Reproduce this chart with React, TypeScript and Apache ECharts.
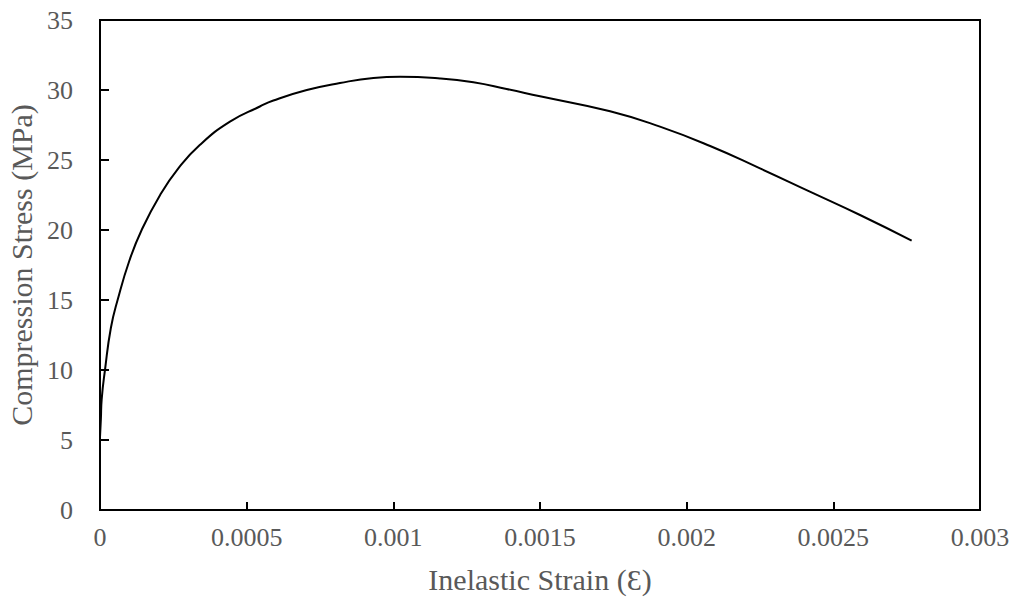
import React, { useEffect, useRef } from "react";
import * as echarts from "echarts";

const strain = [0, 0.000003, 0.0000057, 0.000017, 0.000037, 0.00006, 0.0001, 0.000142, 0.000205, 0.000267, 0.00034, 0.000443, 0.000545, 0.000591, 0.000705, 0.000818, 0.000932, 0.001023, 0.001159, 0.001273, 0.001386, 0.0015, 0.001739, 0.001909, 0.00208, 0.00225, 0.00242, 0.002591, 0.002767];
const stress = [5.2, 6.5, 7.9, 10, 13, 15, 17.8, 20, 22.5, 24.4, 26.07, 27.74, 28.82, 29.25, 30.0, 30.5, 30.86, 30.95, 30.83, 30.55, 30.07, 29.55, 28.48, 27.38, 26.0, 24.4, 22.74, 21.07, 19.24];

const xTitle = "Inelastic Strain (Ɛ)";
const yTitle = "Compression Stress (MPa)";

export default function App() {
  const ref = useRef<HTMLDivElement>(null);
  useEffect(() => {
    if (!ref.current) return;
    const chart = echarts.init(ref.current, null, { renderer: "svg" });
    const font = "'Liberation Serif', 'Times New Roman', serif";
    const textColor = "#595959";
    chart.setOption({
      animation: false,
      backgroundColor: "#ffffff",
      grid: {
        left: 100,
        right: 38,
        top: 20,
        bottom: 92,
        outerBoundsMode: "none",
        containLabel: false,
        show: true,
        borderColor: "#000",
        borderWidth: 2,
        backgroundColor: "transparent",
      },
      xAxis: {
        type: "value",
        min: 0,
        max: 0.003,
        interval: 0.0005,
        name: xTitle,
        nameLocation: "middle",
        nameGap: 54,
        nameTextStyle: { fontFamily: font, fontSize: 30, color: textColor },
        axisLine: { show: true, lineStyle: { color: "#000", width: 2 } },
        axisTick: { show: true, inside: true, length: 8, lineStyle: { color: "#000", width: 2 } },
        axisLabel: {
          fontFamily: font,
          fontSize: 26,
          color: textColor,
          margin: 14,
          formatter: (v: number) => String(+v.toFixed(4)),
        },
        splitLine: { show: false },
      },
      yAxis: {
        type: "value",
        min: 0,
        max: 35,
        interval: 5,
        name: yTitle,
        nameLocation: "middle",
        nameGap: 64,
        nameTextStyle: { fontFamily: font, fontSize: 30, color: textColor },
        axisLine: { show: true, lineStyle: { color: "#000", width: 2 } },
        axisTick: { show: true, inside: true, length: 9, lineStyle: { color: "#000", width: 2 } },
        axisLabel: { fontFamily: font, fontSize: 26, color: textColor, margin: 27 },
        splitLine: { show: false },
      },
      series: [
        {
          type: "line",
          data: strain.map((s, i) => [s, stress[i]]),
          showSymbol: false,
          smooth: 0.5,
          lineStyle: { color: "#000", width: 2 },
        },
      ],
    });
    return () => chart.dispose();
  }, []);
  return (
    <div
      ref={ref}
      style={{ position: "absolute", left: 0, top: 0, width: 1018, height: 602, background: "#fff" }}
    />
  );
}
